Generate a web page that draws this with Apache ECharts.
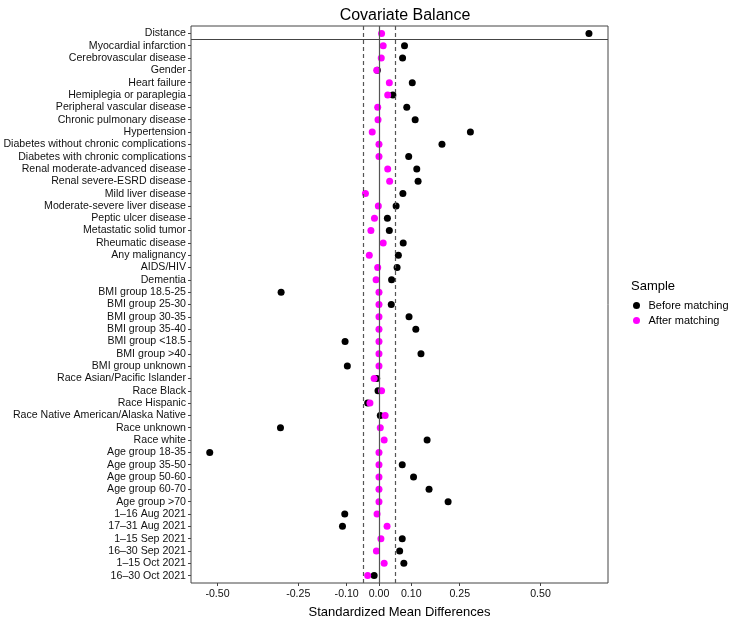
<!DOCTYPE html>
<html>
<head>
<meta charset="utf-8">
<script src="https://cdn.jsdelivr.net/npm/echarts@6/dist/echarts.min.js"></script>
<style>html,body{margin:0;padding:0;background:#fff}#c{width:740px;height:620px}</style>
</head>
<body>
<div id="c"></div>
<script>
const categories = [
  "Distance","Myocardial infarction","Cerebrovascular disease","Gender","Heart failure",
  "Hemiplegia or paraplegia","Peripheral vascular disease","Chronic pulmonary disease","Hypertension",
  "Diabetes without chronic complications","Diabetes with chronic complications",
  "Renal moderate-advanced disease","Renal severe-ESRD disease","Mild liver disease",
  "Moderate-severe liver disease","Peptic ulcer disease","Metastatic solid tumor","Rheumatic disease",
  "Any malignancy","AIDS/HIV","Dementia","BMI group 18.5-25","BMI group 25-30","BMI group 30-35",
  "BMI group 35-40","BMI group <18.5","BMI group >40","BMI group unknown",
  "Race Asian/Pacific Islander","Race Black","Race Hispanic","Race Native American/Alaska Native",
  "Race unknown","Race white","Age group 18-35","Age group 35-50","Age group 50-60",
  "Age group 60-70","Age group >70","1\u201316 Aug 2021","17\u201331 Aug 2021","1\u201315 Sep 2021",
  "16\u201330 Sep 2021","1\u201315 Oct 2021","16\u201330 Oct 2021"
];
const beforeMatching = [
  0.650, 0.079, 0.073, -0.005, 0.103, 0.043, 0.086, 0.112, 0.283,
  0.195, 0.092, 0.117, 0.121, 0.074, 0.053, 0.026, 0.032, 0.075,
  0.060, 0.056, 0.039, -0.303, 0.038, 0.093, 0.114, -0.105, 0.130, -0.098,
  -0.007, -0.003, -0.035, 0.004, -0.305, 0.149, -0.524, 0.072, 0.107,
  0.155, 0.214, -0.106, -0.113, 0.072, 0.064, 0.077, -0.015
];
const afterMatching = [
  0.008, 0.013, 0.007, -0.007, 0.032, 0.027, -0.004, -0.003, -0.021,
  0.000, 0.000, 0.027, 0.033, -0.042, -0.002, -0.014, -0.025, 0.013,
  -0.030, -0.004, -0.009, 0.000, 0.000, 0.000, 0.000, 0.000, 0.000, 0.000,
  -0.015, 0.008, -0.028, 0.019, 0.004, 0.016, 0.000, 0.000, 0.000,
  0.000, 0.000, -0.006, 0.025, 0.006, -0.008, 0.016, -0.035
];
const xTickValues = [-0.5, -0.25, -0.1, 0, 0.1, 0.25, 0.5];
const threshold = 0.05;

const yIdx = categories.map((c, i) => i);
const FONT = "Liberation Sans, Arial, sans-serif";
const chart = echarts.init(document.getElementById('c'), null, {renderer: 'canvas'});
chart.setOption({
  animation: false,
  backgroundColor: '#fff',
  title: [
    {text: 'Covariate Balance', left: 400, top: 3, textAlign: 'center',
     textStyle: {fontFamily: FONT, fontSize: 16, fontWeight: 'normal', color: '#000'}},
    {text: 'Sample', left: 626, top: 275,
     textStyle: {fontFamily: FONT, fontSize: 13, fontWeight: 'normal', color: '#000'}}
  ],
  legend: {
    left: 628, top: 295, orient: 'vertical', icon: 'circle',
    itemWidth: 14, itemHeight: 7, itemGap: 4,
    textStyle: {fontFamily: FONT, fontSize: 11, color: '#000'},
    data: ['Before matching', 'After matching']
  },
  grid: {left: 191, right: 132, top: 26, bottom: 37, show: true, borderColor: '#444', borderWidth: 1,
         outerBoundsMode: 'none', containLabel: false},
  xAxis: {
    type: 'value', min: -0.582, max: 0.709,
    name: 'Standardized Mean Differences', nameLocation: 'middle', nameGap: 23,
    nameTextStyle: {fontFamily: FONT, fontSize: 13, color: '#000'},
    splitLine: {show: false},
    axisLine: {show: false, onZero: false},
    axisTick: {show: true, length: 3, lineStyle: {color: '#444'}, customValues: xTickValues},
    axisLabel: {customValues: xTickValues, formatter: v => v.toFixed(2), margin: 6,
      fontFamily: FONT, fontSize: 10.6, color: '#111'}
  },
  yAxis: {
    type: 'value', min: -0.6, max: categories.length - 1 + 0.6, inverse: true,
    splitLine: {show: false},
    axisLine: {show: false, onZero: false},
    axisTick: {show: true, length: 3, lineStyle: {color: '#444'}, customValues: yIdx},
    axisLabel: {customValues: yIdx, formatter: v => categories[Math.round(v)], margin: 5,
      fontFamily: FONT, fontSize: 10.6, color: '#111'}
  },
  series: [
    {
      type: 'line', data: [], z: 1, silent: true,
      markLine: {
        silent: true, symbol: 'none', label: {show: false},
        data: [
          {xAxis: 0, lineStyle: {color: '#555', type: 'solid', width: 1.2}},
          {xAxis: -threshold, lineStyle: {color: '#555', type: [4, 3], width: 1.2}},
          {xAxis: threshold, lineStyle: {color: '#555', type: [4, 3], width: 1.2}},
          {yAxis: 0.5, lineStyle: {color: '#444', type: 'solid', width: 1.2}}
        ]
      }
    },
    {
      name: 'Before matching', type: 'scatter', z: 3, symbolSize: 7,
      itemStyle: {color: '#000', opacity: 1},
      data: beforeMatching.map((v, i) => [v, i])
    },
    {
      name: 'After matching', type: 'scatter', z: 4, symbolSize: 7,
      itemStyle: {color: '#FF00FF', opacity: 1},
      data: afterMatching.map((v, i) => [v, i])
    }
  ]
});
</script>
</body>
</html>
